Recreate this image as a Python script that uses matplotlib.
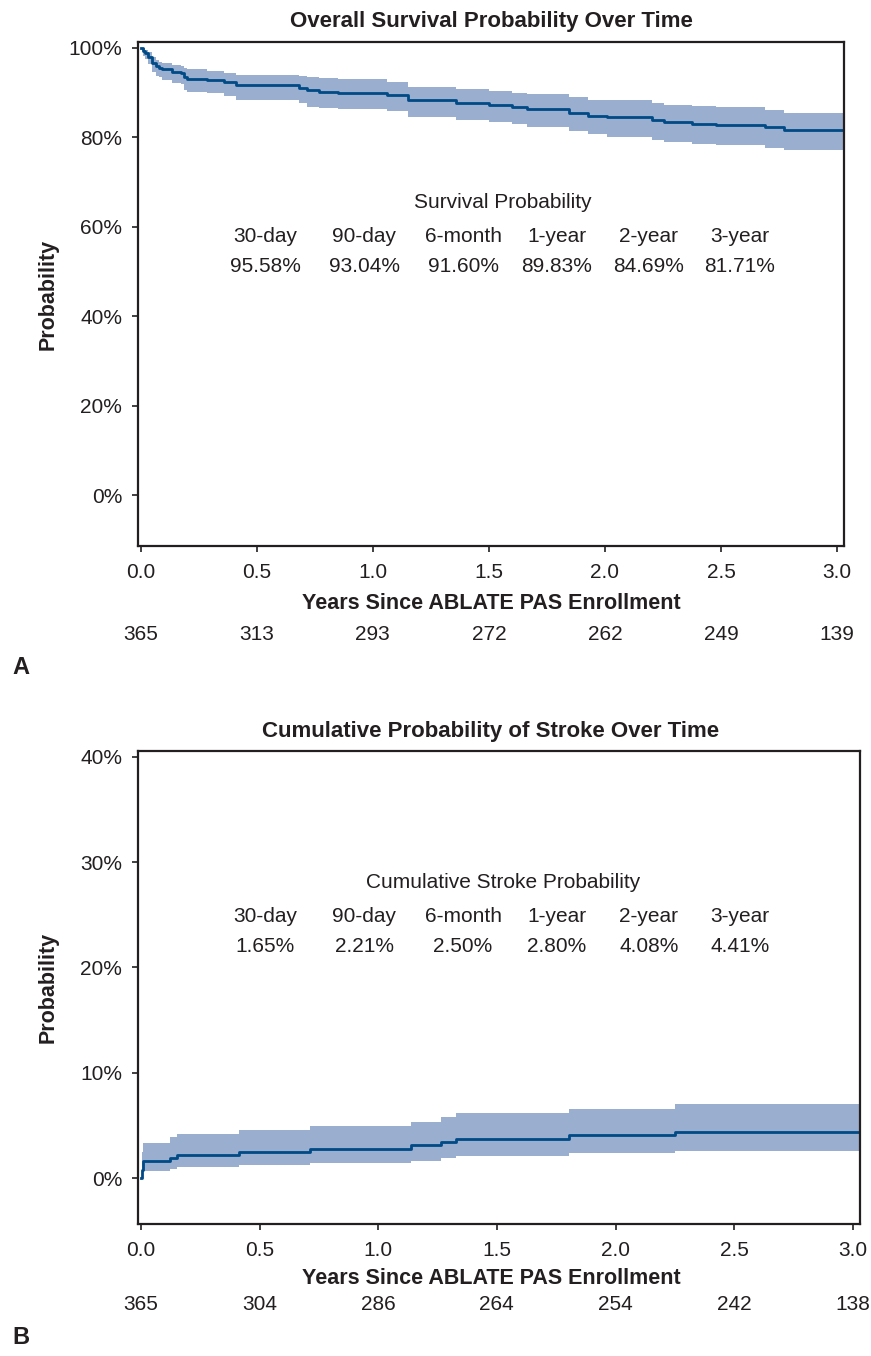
import numpy as np
import matplotlib
matplotlib.use("Agg")
import matplotlib.pyplot as plt
from matplotlib.transforms import blended_transform_factory

plt.rcParams['font.family'] = ['Liberation Sans', 'DejaVu Sans']

# ---- panel A: overall survival (KM steps, percent) ----
time_a = [0.000, 0.010, 0.018, 0.031, 0.048, 0.065, 0.080, 0.093, 0.136, 0.172,
          0.186, 0.200, 0.284, 0.360, 0.410, 0.680, 0.715, 0.766, 0.848, 1.061,
          1.153, 1.357, 1.499, 1.601, 1.662, 1.846, 1.927, 2.009, 2.202, 2.253,
          2.375, 2.477, 2.691, 2.773]
surv_a = [100.0, 99.2, 98.75, 98.0, 96.5, 95.9, 95.58, 95.2, 94.6, 94.3,
          93.5, 93.1, 92.8, 92.3, 91.65, 91.1, 90.5, 90.2, 89.83, 89.45,
          88.3, 87.7, 87.2, 86.7, 86.3, 85.5, 84.69, 84.45, 83.85, 83.45,
          82.95, 82.7, 82.3, 81.71]
lo_a = [100.0, 98.2, 97.4, 96.3, 94.5, 93.8, 93.4, 92.9, 92.1, 91.8,
        90.6, 90.2, 89.8, 89.2, 88.3, 87.6, 86.8, 86.6, 86.3, 85.9,
        84.43, 83.8, 83.3, 82.9, 82.4, 81.5, 80.7, 80.1, 79.4, 79.0,
        78.6, 78.25, 77.7, 77.13]
hi_a = [100.0, 100.0, 99.6, 99.1, 98.0, 97.2, 96.9, 96.5, 96.2, 96.0,
        95.4, 95.2, 94.9, 94.4, 93.9, 93.6, 93.5, 93.3, 93.0, 92.4,
        91.3, 90.8, 90.4, 89.95, 89.6, 88.9, 88.4, 88.3, 87.56, 87.3,
        86.97, 86.8, 86.07, 85.48]
risk_a = [365, 313, 293, 272, 262, 249, 139]
cols = ['30-day', '90-day', '6-month', '1-year', '2-year', '3-year']
vals_a = ['95.58%', '93.04%', '91.60%', '89.83%', '84.69%', '81.71%']

# ---- panel B: cumulative stroke ----
time_b = [0.000, 0.003, 0.008, 0.121, 0.151, 0.414, 0.712, 1.137, 1.266, 1.326,
          1.804, 2.252]
cum_b = [0.0, 0.82, 1.65, 1.93, 2.21, 2.50, 2.80, 3.12, 3.44, 3.76, 4.08, 4.41]
lo_b = [0.0, 0.2, 0.72, 0.85, 1.04, 1.26, 1.48, 1.64, 1.90, 2.12, 2.37, 2.62]
hi_b = [0.0, 2.5, 3.32, 3.89, 4.20, 4.58, 4.96, 5.37, 5.79, 6.17, 6.61, 7.05]
risk_b = [365, 304, 286, 264, 254, 242, 138]
vals_b = ['1.65%', '2.21%', '2.50%', '2.80%', '4.08%', '4.41%']

xticks = [0.0, 0.5, 1.0, 1.5, 2.0, 2.5, 3.0]
XMAX = 3.03

LINE = '#004a86'
BAND = '#9aaecf'
INK = '#231f20'
FS = 15      # regular text
FB = 15.5    # bold labels

W, H = 871, 1356
fig = plt.figure(figsize=(W / 100, H / 100), dpi=100)


def box(l, t, r, b):
    return [l / W, 1 - b / H, (r - l) / W, (b - t) / H]


def fx(x):
    return x / W


def fy(y):
    return 1 - y / H


def panel(rect, t, s, lo, hi, ylim, yticks, title, header, vals, risk, pix):
    ax = fig.add_axes(rect)
    tt = list(t) + [XMAX]
    ss = list(s) + [s[-1]]
    ll = list(lo) + [lo[-1]]
    hh = list(hi) + [hi[-1]]
    ax.fill_between(tt, ll, hh, step='post', color=BAND, lw=0)
    ax.step(tt, ss, where='post', color=LINE, lw=2)
    ax.set_xlim(-0.012, XMAX)
    ax.set_ylim(*ylim)
    ax.set_xticks(xticks)
    ax.set_xticklabels(['%.1f' % v for v in xticks])
    ax.set_yticks(yticks)
    ax.set_yticklabels(['%d%%' % v for v in yticks])
    for sp in ax.spines.values():
        sp.set_linewidth(1.6)
        sp.set_color(INK)
    ax.tick_params(length=4.5, width=1.2, color=INK, labelsize=FS,
                   labelcolor=INK)
    ax.tick_params(axis='x', pad=8)
    ax.tick_params(axis='y', pad=7)
    top, bot = pix['top'], pix['bot']
    fig.text(fx(48), fy((top + bot) / 2), 'Probability', rotation=90,
             ha='center', va='center', fontsize=FB, fontweight='bold', color=INK)
    fig.text(fx(491), fy(top - 20), title, ha='center', va='center',
             fontsize=16, fontweight='bold', color=INK)
    fig.text(fx(491), fy(bot + pix['xl']), 'Years Since ABLATE PAS Enrollment',
             ha='center', va='center', fontsize=FB, fontweight='bold', color=INK)
    tr = blended_transform_factory(ax.transData, fig.transFigure)
    for x, n in zip(xticks, risk):
        ax.text(x, fy(bot + pix['nr']), str(n), transform=tr, ha='center',
                va='center', fontsize=FS, color=INK)
    fig.text(fx(12), fy(bot + pix['lt']), pix['letter'], ha='left',
             va='center', fontsize=17, fontweight='bold', color=INK)
    # survival table inset
    fig.text(fx(503), fy(pix['hdr']), header, ha='center', va='center',
             fontsize=FS, color=INK)
    colx = [265, 364, 463, 557, 649, 740]
    for cx, c, v in zip(colx, cols, vals):
        fig.text(fx(cx), fy(pix['hdr'] + 34), c, ha='center', va='center',
                 fontsize=FS, color=INK)
        fig.text(fx(cx), fy(pix['hdr'] + 64), v, ha='center', va='center',
                 fontsize=FS, color=INK)
    return ax


panel(box(138, 42, 844, 546), time_a, surv_a, lo_a, hi_a, (-11.4, 101.3),
      [0, 20, 40, 60, 80, 100], 'Overall Survival Probability Over Time',
      'Survival Probability', vals_a, risk_a,
      dict(top=42, bot=546, hdr=203, letter='A', xl=57, nr=89, lt=122))

panel(box(138, 751, 860, 1224), time_b, cum_b, lo_b, hi_b, (-4.34, 40.54),
      [0, 10, 20, 30, 40], 'Cumulative Probability of Stroke Over Time',
      'Cumulative Stroke Probability', vals_b, risk_b,
      dict(top=751, bot=1224, hdr=882, letter='B', xl=54, nr=81, lt=113))

fig.savefig('out.png', dpi=100)
